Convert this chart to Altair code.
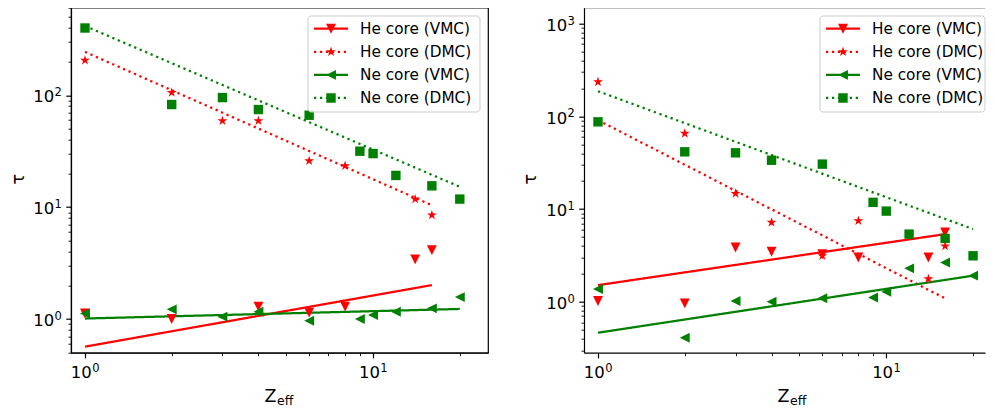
import math
import altair as alt
import pandas as pd

# ---------------- data ----------------
SERIES = ["He core (VMC)", "He core (DMC)", "Ne core (VMC)", "Ne core (DMC)"]
COLORS = ["#ff0000", "#ff0000", "#008000", "#008000"]

he_z = [1, 2, 3, 4, 6, 8, 14, 16]
he_vmc_z_left = [1, 2, 4, 6, 8, 14, 16]
ne_z = [1, 2, 3, 4, 6, 9, 10, 12, 16, 20]

# left panel
L_he_vmc = [1.12, 1.0, 1.29, 1.14, 1.29, 3.41, 4.13]
L_he_dmc = [205, 105.6, 59, 59, 25.9, 23.4, 11.8, 8.48]
L_ne_vmc = [1.12, 1.22, 1.05, 1.16, 0.966, 1.0, 1.085, 1.16, 1.245, 1.57]
L_ne_dmc = [399, 82.6, 95.3, 74.5, 66.3, 31.6, 30.1, 19.2, 15.5, 11.8]

# right panel
R_he_vmc = [1.02, 0.96, 3.85, 3.46, 3.26, 3.0, 3.0, 5.59]
R_he_dmc = [235, 65.3, 14.7, 7.17, 3.13, 7.47, 1.76, 3.98]
R_ne_vmc = [1.37, 0.409, 1.02, 1.0, 1.09, 1.11, 1.28, 2.29, 2.65, 1.91]
R_ne_dmc = [87.2, 41.4, 40.4, 33.6, 30.5, 11.8, 9.5, 5.36, 4.82, 3.13]

# power-law fit lines (end points)
fit_he_z = [1, 16]
fit_ne_z = [1, 20]
L_fit_he_vmc = [0.566, 2.01]
L_fit_he_dmc = [244, 10.4]
L_fit_ne_vmc = [1.01, 1.23]
L_fit_ne_dmc = [416, 15.2]
R_fit_he_vmc = [1.51, 5.36]
R_fit_he_dmc = [90.9, 1.086]
R_fit_ne_vmc = [0.463, 1.91]
R_fit_ne_dmc = [186.6, 6.07]

# axis ticks
x_major = [1, 10]
x_major_exp = ["0", "1"]
x_minor = [2, 3, 4, 5, 6, 7, 8, 9, 20]
yL_major = [1, 10, 100]
yL_major_exp = ["0", "1", "2"]
yL_minor = [0.5, 0.6, 0.7, 0.8, 0.9, 2, 3, 4, 5, 6, 7, 8, 9,
            20, 30, 40, 50, 60, 70, 80, 90, 200, 300, 400, 500, 600]
yR_major = [1, 10, 100, 1000]
yR_major_exp = ["0", "1", "2", "3"]
yR_minor = [0.3, 0.4, 0.5, 0.6, 0.7, 0.8, 0.9, 2, 3, 4, 5, 6, 7, 8, 9,
            20, 30, 40, 50, 60, 70, 80, 90, 200, 300, 400, 500, 600, 700, 800, 900]

FONT = "DejaVu Sans"
TICK_FS = 16.5
SUP_FS = 11.5
TITLE_FS = 17.5
LEG_FS = 15.3


def points_df(he_vmc_z, he_vmc, he_dmc, ne_vmc, ne_dmc):
    rows = []
    for name, xs, ys in [(SERIES[0], he_vmc_z, he_vmc), (SERIES[2], ne_z, ne_vmc),
                         (SERIES[3], ne_z, ne_dmc), (SERIES[1], he_z, he_dmc)]:
        rows += [{"series": name, "z": x, "tau": y} for x, y in zip(xs, ys)]
    return pd.DataFrame(rows)


def fit_df(he_vmc, he_dmc, ne_vmc, ne_dmc):
    rows = []
    for name, xs, ys in [(SERIES[0], fit_he_z, he_vmc), (SERIES[1], fit_he_z, he_dmc),
                         (SERIES[2], fit_ne_z, ne_vmc), (SERIES[3], fit_ne_z, ne_dmc)]:
        rows += [{"series": name, "z": x, "tau": y} for x, y in zip(xs, ys)]
    return pd.DataFrame(rows)


# ---------------- marker shapes (unit paths) ----------------
def poly(pts):
    return "M" + "L".join(f"{x:.3f},{y:.3f}" for x, y in pts) + "Z"


MK = 1.1
TRI_DOWN = [(-1, -1), (1, -1), (0, 1)]
TRI_LEFT = [(1, -1), (1, 1), (-1, 0)]
SQUARE = [(-1, -1), (1, -1), (1, 1), (-1, 1)]
_star = []
for k in range(10):
    a = math.radians(90 + 36 * k)
    r = 1.0 if k % 2 == 0 else 0.381966
    _star.append((r * math.cos(a), -r * math.sin(a)))
STAR = [_star[0]] + _star[:0:-1]
MARKER_BASE = [(TRI_DOWN, MK), (STAR, MK * 1.05), (TRI_LEFT, MK), (SQUARE, MK * 0.95)]


def scaled(pts, s):
    return [(x * s, y * s) for x, y in pts]


MARKERS = [poly(scaled(p, s)) for p, s in MARKER_BASE]

# legend handles: line segment + marker, drawn with size 16 (2 px per unit)
LF = 2.25
LH, LT = 3.78 * LF, 0.25 * LF
DOT_ON, DOT_PERIOD = 0.5 * LF, 1.322 * LF


def rect(x0, x1, t):
    return poly([(x0, -t), (x1, -t), (x1, t), (x0, t)])


def solid_line():
    return rect(-LH, LH, LT)


def dotted_line():
    out, s = "", -LH
    while s < LH:
        out += rect(s, min(s + DOT_ON, LH), LT)
        s += DOT_PERIOD
    return out


LEG_MARKERS = [poly(scaled(p, s * LF)) for p, s in MARKER_BASE]
LEGEND_SYMBOLS = [solid_line() + LEG_MARKERS[0], dotted_line() + LEG_MARKERS[1],
                  solid_line() + LEG_MARKERS[2], dotted_line() + LEG_MARKERS[3]]

color_scale = alt.Scale(domain=SERIES, range=COLORS)
dash_scale = alt.Scale(domain=SERIES, range=[[1, 0], [2.25, 3.7], [1, 0], [2.25, 3.7]])
shape_scale = alt.Scale(domain=SERIES, range=MARKERS)
legend_shape_scale = alt.Scale(domain=SERIES, range=LEGEND_SYMBOLS)

BASE_W = 21.0   # width of "10" at TICK_FS
SUP_W = 7.3     # width of exponent digit at SUP_FS

legend_df = pd.DataFrame({"series": SERIES, "row": [0, 1, 2, 3]})


def panel(pts, fits, xdom, ydom, ymaj, yexp, ymin, width, leg_left, leg_right, right_side):
    height = 345
    xs = alt.Scale(type="log", domain=xdom, nice=False, zero=False)
    ys = alt.Scale(type="log", domain=ydom, nice=False, zero=False)
    ax_x_major = alt.Axis(values=x_major, orient="bottom", grid=False, labels=False,
                          tickSize=5.25, tickWidth=1.2, tickColor="black",
                          domain=True, domainColor="black", domainWidth=1.2,
                          title="Z", titleFont=FONT, titleFontSize=TITLE_FS, titleColor="black",
                          titleFontWeight="normal", titleX=199, titleY=49,
                          titleBaseline="alphabetic", titleAlign="center")
    ax_y_major = alt.Axis(values=ymaj, orient="left", grid=False, labels=False,
                          tickSize=5.25, tickWidth=1.2, tickColor="black",
                          domain=True, domainColor="black", domainWidth=1.2,
                          title="\u03c4", titleFont=FONT, titleFontSize=TITLE_FS, titleColor="black",
                          titleFontWeight="normal", titleX=-53, titleY=171,
                          titleAngle=270, titleBaseline="middle", titleAlign="center")
    ax_x_minor = alt.Axis(values=x_minor, orient="bottom", labels=False, grid=False,
                          tickSize=3, tickWidth=0.9, tickColor="black", domain=False, title="")
    ax_y_minor = alt.Axis(values=ymin, orient="left", labels=False, grid=False,
                          tickSize=3, tickWidth=0.9, tickColor="black", domain=False, title="")

    lines = alt.Chart(fits).mark_line(strokeWidth=2.25, strokeCap="butt").encode(
        x=alt.X("z:Q", scale=xs, axis=ax_x_major),
        y=alt.Y("tau:Q", scale=ys, axis=ax_y_major),
        color=alt.Color("series:N", scale=color_scale, legend=None),
        strokeDash=alt.StrokeDash("series:N", scale=dash_scale, legend=None),
    )
    points = alt.Chart(pts).mark_point(filled=True, opacity=1, size=81).encode(
        x=alt.X("z:Q", scale=xs, axis=ax_x_minor),
        y=alt.Y("tau:Q", scale=ys, axis=ax_y_minor),
        color=alt.Color("series:N", scale=color_scale, legend=None),
        shape=alt.Shape("series:N", scale=shape_scale, legend=None),
    )

    # legend (upper right, matplotlib style)
    row_scale = alt.Scale(domain=[0, 3], range=[21.0, 90.3])
    frame = alt.Chart(pd.DataFrame({"t": [0]})).mark_rect(
        fill="white", fillOpacity=0.8, stroke="#cccccc", strokeWidth=1, cornerRadius=3
    ).encode(x=alt.value(leg_left), x2=alt.value(leg_right), y=alt.value(8.3), y2=alt.value(104.3))
    leg_sym = alt.Chart(legend_df).mark_point(filled=True, size=16, opacity=1).encode(
        x=alt.value(leg_left + 23),
        y=alt.Y("row:Q", scale=row_scale, axis=None),
        color=alt.Color("series:N", scale=color_scale, legend=None),
        shape=alt.Shape("series:N", scale=legend_shape_scale, legend=None),
    )
    leg_txt = alt.Chart(legend_df).mark_text(
        font=FONT, fontSize=LEG_FS, align="left", baseline="middle", color="black"
    ).encode(x=alt.value(leg_left + 52), y=alt.Y("row:Q", scale=row_scale, axis=None),
             text="series:N")

    # tick labels of the form 10^n (base and raised exponent)
    xlab = pd.DataFrame({"v": x_major, "e": x_major_exp})
    ylab = pd.DataFrame({"v": ymaj, "e": yexp})
    off = (BASE_W + SUP_W) / 2
    txt = dict(font=FONT, color="black", baseline="alphabetic")
    x_base = alt.Chart(xlab).mark_text(fontSize=TICK_FS, align="right", dx=BASE_W - off, **txt).encode(
        x=alt.X("v:Q", scale=xs, axis=None), y=alt.value(height + 25), text=alt.value("10"))
    x_sup = alt.Chart(xlab).mark_text(fontSize=SUP_FS, align="left", dx=BASE_W - off + 0.3, **txt).encode(
        x=alt.X("v:Q", scale=xs, axis=None), y=alt.value(height + 18.9), text="e:N")
    y_base = alt.Chart(ylab).mark_text(fontSize=TICK_FS, align="right", dx=-9.25 - SUP_W - 0.3, dy=7.25, **txt).encode(
        y=alt.Y("v:Q", scale=ys, axis=None), x=alt.value(0), text=alt.value("10"))
    y_sup = alt.Chart(ylab).mark_text(fontSize=SUP_FS, align="right", dx=-9.25, dy=1.15, **txt).encode(
        y=alt.Y("v:Q", scale=ys, axis=None), x=alt.value(0), text="e:N")

    sub = alt.Chart(pd.DataFrame({"t": ["eff"]})).mark_text(
        font=FONT, fontSize=12.5, align="left", baseline="alphabetic", color="black"
    ).encode(text="t:N", x=alt.value(206), y=alt.value(height + 52))

    layers = [lines, points, frame, leg_sym, leg_txt, x_base, x_sup, y_base, y_sup, sub]
    view = alt.ViewBackground(stroke="black", strokeWidth=1.2)
    if right_side:
        top = alt.Chart(pd.DataFrame({"t": [0]})).mark_rule(color="black", strokeWidth=1.2).encode(
            x=alt.value(0), x2=alt.value(width), y=alt.value(0))
        layers.append(top)
        view = alt.ViewBackground(stroke="transparent", strokeWidth=0)
    return alt.layer(*layers).resolve_scale(
        shape="independent", y="independent"
    ).resolve_axis(x="independent", y="independent").properties(
        width=width, height=height, view=view)


left = panel(points_df(he_vmc_z_left, L_he_vmc, L_he_dmc, L_ne_vmc, L_ne_dmc),
             fit_df(L_fit_he_vmc, L_fit_he_dmc, L_fit_ne_vmc, L_fit_ne_dmc),
             [0.8943, 25.06], [0.5, 606], yL_major, yL_major_exp, yL_minor, 417, 237, 409, False)
right = panel(points_df(he_z, R_he_vmc, R_he_dmc, R_ne_vmc, R_ne_dmc),
              fit_df(R_fit_he_vmc, R_fit_he_dmc, R_fit_ne_vmc, R_fit_ne_dmc),
              [0.8943, 22.0], [0.282, 1485], yR_major, yR_major_exp, yR_minor, 401, 236, 401, True)

chart = alt.hconcat(left, right, spacing=33).resolve_scale(
    x="independent", y="independent", color="independent", shape="independent",
    strokeDash="independent"
).properties(
    padding={"left": 0, "top": -2.3, "right": 0, "bottom": 0}
).configure(
    background="white",
    font=FONT,
)

chart.save("out.html", embed_options={"renderer": "svg", "actions": False})
